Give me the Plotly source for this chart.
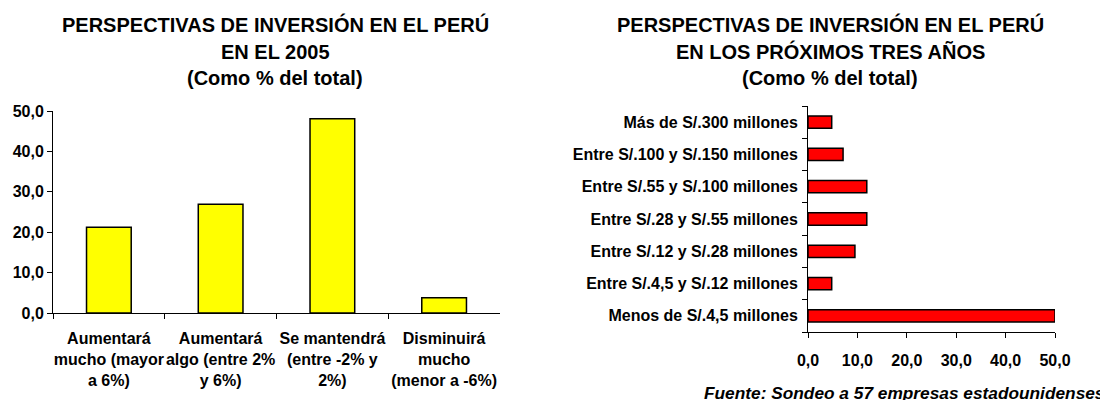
import plotly.graph_objects as go

# Datos
categorias_2005 = [
    "Aumentará<br>mucho (mayor<br>a 6%)",
    "Aumentará<br>algo (entre 2%<br>y 6%)",
    "Se mantendrá<br>(entre -2% y<br>2%)",
    "Disminuirá<br>mucho<br>(menor a -6%)",
]
valores_2005 = [21.2, 26.9, 48.1, 3.8]

# de abajo hacia arriba
categorias_3anios = [
    "Menos de S/.4,5 millones",
    "Entre S/.4,5 y S/.12 millones",
    "Entre S/.12 y S/.28 millones",
    "Entre S/.28 y S/.55 millones",
    "Entre S/.55 y S/.100 millones",
    "Entre S/.100 y S/.150 millones",
    "Más de S/.300 millones",
]
valores_3anios = [50.0, 4.8, 9.5, 11.9, 11.9, 7.1, 4.8]

FUENTE = "Arial, Liberation Sans, sans-serif"
W, H = 1108, 400
OFF = 8  # margen del body de la página


def px(x):
    return (x - OFF) / W


def py(y):
    return 1 - (y - OFF) / H


fig = go.Figure()

fig.add_trace(go.Bar(
    x=categorias_2005,
    y=valores_2005,
    width=0.4,
    marker=dict(color="#FFFF00", line=dict(color="black", width=1.5)),
    xaxis="x", yaxis="y",
    showlegend=False,
))

fig.add_trace(go.Bar(
    x=valores_3anios,
    y=categorias_3anios,
    orientation="h",
    width=0.38,
    marker=dict(color="#FF0000", line=dict(color="black", width=1.5)),
    xaxis="x2", yaxis="y2",
    showlegend=False,
))

eje = dict(
    showgrid=False, zeroline=False, automargin=False,
    showline=True, linecolor="black", linewidth=1,
    ticks="outside", ticklen=5, tickcolor="black", tickangle=0,
    tickfont=dict(family=FUENTE, size=16, color="black", weight="bold"),
    fixedrange=True,
)

fig.update_layout(
    template="none",
    width=W, height=H,
    margin=dict(l=0, r=0, t=0, b=0),
    paper_bgcolor="white", plot_bgcolor="white",
    separators=",.",
    font=dict(family=FUENTE, color="black"),
    xaxis=dict(eje, domain=[px(53), px(500)], anchor="y",
               tickson="boundaries", ticklabelstandoff=11),
    yaxis=dict(eje, domain=[py(313), py(111)], anchor="x",
               range=[0, 50], dtick=10, tickformat=".1f"),
    xaxis2=dict(eje, domain=[px(808), px(1055)], anchor="y2",
                range=[0, 50], dtick=10, tickformat=".1f",
                ticklabelstandoff=9),
    yaxis2=dict(eje, domain=[py(332), py(106)], anchor="x2",
                tickson="boundaries", ticklabelstandoff=6),
)

# Títulos
titulos = [
    (275, "PERSPECTIVAS DE INVERSIÓN EN EL PERÚ", "EN EL 2005"),
    (830, "PERSPECTIVAS DE INVERSIÓN EN EL PERÚ", "EN LOS PRÓXIMOS TRES AÑOS"),
]
for cx, l1, l2 in titulos:
    for ty, txt in [(25, l1), (52, l2), (78, "(Como % del total)")]:
        fig.add_annotation(
            x=px(cx), y=py(ty), xref="paper", yref="paper",
            text=txt, showarrow=False, xanchor="center", yanchor="middle",
            font=dict(family=FUENTE, size=20, color="black", weight="bold"),
        )

fig.add_annotation(
    x=px(1107), y=py(393), xref="paper", yref="paper",
    text="<i>Fuente: Sondeo a 57 empresas estadounidenses</i>",
    showarrow=False, xanchor="right", yanchor="middle",
    font=dict(family=FUENTE, size=17.3, color="black", weight="bold"),
)

fig.write_html("out.html")
